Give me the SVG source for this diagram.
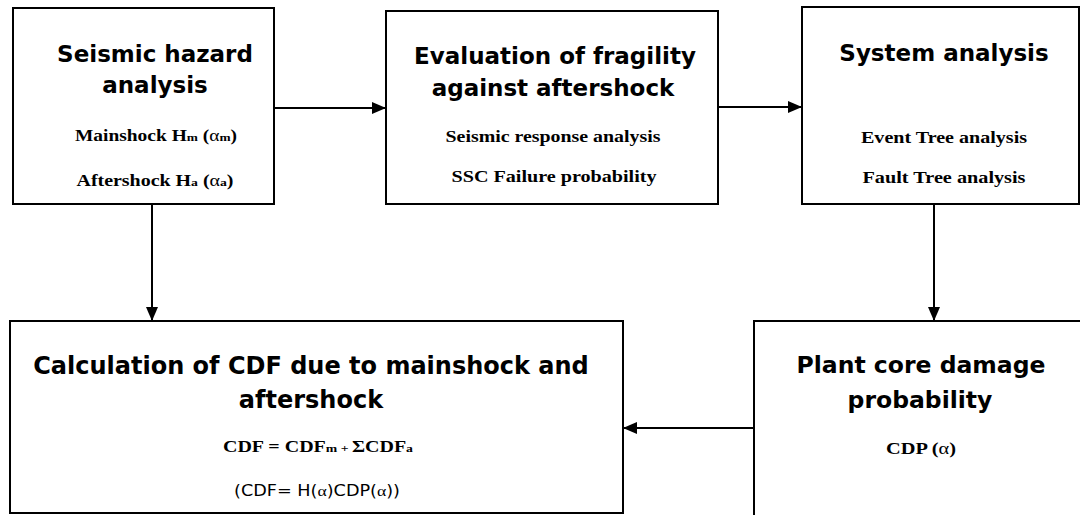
<svg xmlns="http://www.w3.org/2000/svg" width="1080" height="515" viewBox="0 0 1080 515">
<defs>
<marker id="ah" viewBox="0 0 14 12" refX="14" refY="6" markerWidth="14" markerHeight="12" markerUnits="userSpaceOnUse" orient="auto">
<path d="M0,0 L14,6 L0,12 Z" fill="#000"/>
</marker>
<style>
.box{fill:#fff;stroke:#000;stroke-width:2}
.t{font-family:"DejaVu Sans",Verdana,sans-serif;font-weight:bold;font-size:23px;text-anchor:middle;fill:#000}
.tb{font-size:24px}
.s{font-family:"Liberation Serif","Times New Roman",serif;font-weight:bold;font-size:16px;text-anchor:middle;fill:#000}
.r{font-family:"DejaVu Sans",Tahoma,sans-serif;font-size:15px;text-anchor:middle;fill:#000}
.g{font-family:"Liberation Serif",serif;font-weight:normal}
.sm{font-size:11px}
.con{stroke:#000;stroke-width:2;fill:none}
</style>
</defs>
<rect width="1080" height="515" fill="#fff"/>
<g id="n1">
<rect class="box" x="13" y="8" width="261" height="196"/>
<text class="t" x="155" y="62">Seismic hazard</text>
<text class="t" x="155" y="93">analysis</text>
<text class="s" x="156" y="141" textLength="162" lengthAdjust="spacingAndGlyphs">Mainshock H<tspan class="sm">m</tspan> (<tspan class="g">α</tspan><tspan class="sm">m</tspan>)</text>
<text class="s" x="155" y="186" textLength="157" lengthAdjust="spacingAndGlyphs">Aftershock H<tspan class="sm">a</tspan> (<tspan class="g">α</tspan><tspan class="sm">a</tspan>)</text>
</g>
<g id="n2">
<rect class="box" x="386" y="11" width="332" height="193"/>
<text class="t" x="555" y="64">Evaluation of fragility</text>
<text class="t" x="553" y="96">against aftershock</text>
<text class="s" x="553" y="142" textLength="215" lengthAdjust="spacingAndGlyphs">Seismic response analysis</text>
<text class="s" x="554" y="182" textLength="205" lengthAdjust="spacingAndGlyphs">SSC Failure probability</text>
</g>
<g id="n3">
<rect class="box" x="802" y="7" width="277" height="197"/>
<text class="t" x="944" y="61">System analysis</text>
<text class="s" x="944" y="143" textLength="166" lengthAdjust="spacingAndGlyphs">Event Tree analysis</text>
<text class="s" x="944" y="183" textLength="163" lengthAdjust="spacingAndGlyphs">Fault Tree analysis</text>
</g>
<g id="n4">
<rect class="box" x="10" y="321" width="613" height="192"/>
<text class="t tb" x="311" y="374">Calculation of CDF due to mainshock and</text>
<text class="t tb" x="311" y="408">aftershock</text>
<text class="s" x="318" y="452" textLength="190" lengthAdjust="spacingAndGlyphs">CDF = CDF<tspan class="sm">m + </tspan>ΣCDF<tspan class="sm">a</tspan></text>
<text class="r" x="317" y="496" textLength="166" lengthAdjust="spacingAndGlyphs">(CDF= H(<tspan class="g">α</tspan>)CDP(<tspan class="g">α</tspan>))</text>
</g>
<g id="n5">
<rect class="box" x="754" y="321" width="340" height="200"/>
<text class="t" x="921" y="373" style="font-size:23.5px">Plant core damage</text>
<text class="t" x="920" y="408" style="font-size:23.5px">probability</text>
<text class="s" x="921" y="454" textLength="70" lengthAdjust="spacingAndGlyphs">CDP (<tspan class="g">α</tspan>)</text>
</g>
<g id="connectors">
<line class="con" x1="274" y1="108" x2="386" y2="108" marker-end="url(#ah)"/>
<line class="con" x1="718" y1="107" x2="802" y2="107" marker-end="url(#ah)"/>
<line class="con" x1="152" y1="204" x2="152" y2="321" marker-end="url(#ah)"/>
<line class="con" x1="934" y1="204" x2="934" y2="321" marker-end="url(#ah)"/>
<line class="con" x1="754" y1="428" x2="623" y2="428" marker-end="url(#ah)"/>
</g>
</svg>
